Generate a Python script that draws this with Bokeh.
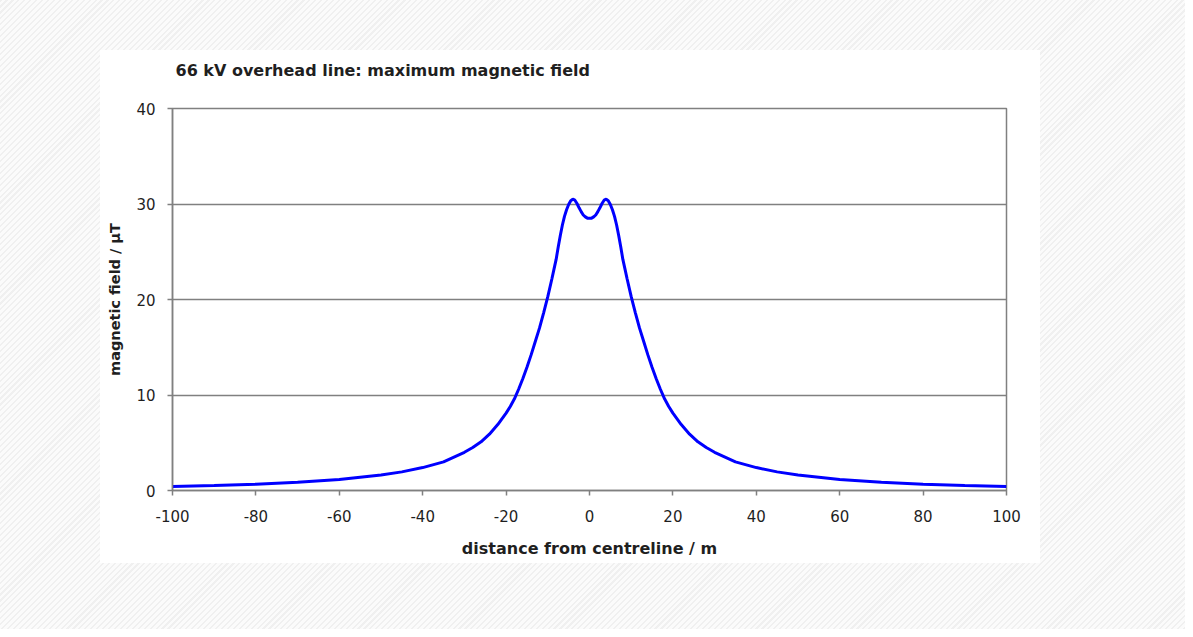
from bokeh.plotting import figure
from bokeh.models import Range1d, FixedTicker, ColumnDataSource, Spacer, CustomJSTickFormatter
from bokeh.layouts import column, row
from bokeh.embed import file_html
from bokeh.resources import INLINE

# ---- data ----
distance_m = [-100, -90, -80, -70, -60, -50, -45, -40, -35, -30, -28, -26, -24, -22,
              -20, -19, -18, -17, -16, -15, -14, -13, -12, -11, -10, -9, -8.5, -8, -7.5,
              -7, -6.5, -6, -5.5, -5, -4.5, -4, -3.5, -3, -2.5, -2, -1.5, -1, -0.5, 0,
              0.5, 1, 1.5, 2, 2.5, 3, 3.5, 4, 4.5, 5, 5.5, 6, 6.5, 7,
              7.5, 8, 8.5, 9, 10, 11, 12, 13, 14, 15, 16, 17, 18, 19, 20,
              22, 24, 26, 28, 30, 35, 40, 45, 50, 60, 70, 80, 90, 100]
field_uT = [0.42, 0.52, 0.66, 0.86, 1.15, 1.62, 1.95, 2.4, 3.0, 4.0, 4.5, 5.1, 5.9, 6.9,
            8.1, 8.8, 9.6, 10.6, 11.7, 12.9, 14.2, 15.6, 17.0, 18.6, 20.3, 22.2, 23.2, 24.2, 25.5,
            26.7, 27.8, 28.7, 29.4, 29.95, 30.35, 30.5, 30.4, 30.05, 29.6, 29.2, 28.85, 28.65, 28.52, 28.5,
            28.52, 28.65, 28.85, 29.2, 29.6, 30.05, 30.4, 30.5, 30.35, 29.95, 29.4, 28.7, 27.8, 26.7,
            25.5, 24.2, 23.2, 22.2, 20.3, 18.6, 17.0, 15.6, 14.2, 12.9, 11.7, 10.6, 9.6, 8.8, 8.1,
            6.9, 5.9, 5.1, 4.5, 4.0, 3.0, 2.4, 1.95, 1.62, 1.15, 0.86, 0.66, 0.52, 0.42]
x_ticks = [-100, -80, -60, -40, -20, 0, 20, 40, 60, 80, 100]
y_ticks = [0, 10, 20, 30, 40]
title_text = "66 kV overhead line: maximum magnetic field"
x_label = "distance from centreline / m"
y_label = "magnetic field / µT"

src = ColumnDataSource(dict(x=distance_m, y=field_uT))

HATCH = "repeating-linear-gradient(135deg, #f0f0f0 0px, #f0f0f0 1.5px, #fbfbfb 1.5px, #fbfbfb 4.2px)"

# figure extends 21px above the white panel (transparent there) so the title sits high
p = figure(width=940, height=534, output_backend="svg", toolbar_location=None,
           x_range=Range1d(-100, 100), y_range=Range1d(0, 40),
           min_border_left=72, min_border_right=34, min_border_top=79, min_border_bottom=73,
           title=title_text,
           styles={"background": "linear-gradient(to bottom, transparent 0px, transparent 21px, white 21px, white 100%)"})

GRAY = "#808080"
TXT = "#1f1f1f"

p.title.text_font = "DejaVu Sans"
p.title.text_font_size = "16px"
p.title.text_font_style = "bold"
p.title.text_color = TXT
p.title.align = "left"
p.title.offset = 3
p.title.standoff = 58

p.background_fill_color = "white"
p.border_fill_color = None
p.outline_line_color = GRAY
p.outline_line_width = 1.5

p.xgrid.visible = False
p.ygrid.grid_line_color = GRAY
p.ygrid.grid_line_width = 1.5

for ax in (p.xaxis[0], p.yaxis[0]):
    ax.axis_line_color = GRAY
    ax.axis_line_width = 1.5
    ax.major_tick_line_color = GRAY
    ax.major_tick_line_width = 1.5
    ax.major_tick_in = 0
    ax.major_tick_out = 5
    ax.minor_tick_line_color = None
    ax.major_label_text_font = "DejaVu Sans"
    ax.major_label_text_font_size = "15px"
    ax.major_label_text_color = TXT
    ax.axis_label_text_font = "DejaVu Sans"
    ax.axis_label_text_font_style = "bold"
    ax.axis_label_text_color = TXT
    ax.formatter = CustomJSTickFormatter(code="return tick.toString();")

p.xaxis.ticker = FixedTicker(ticks=x_ticks)
p.yaxis.ticker = FixedTicker(ticks=y_ticks)
p.xaxis.axis_label = x_label
p.yaxis.axis_label = y_label
p.xaxis.axis_label_text_font_size = "16px"
p.yaxis.axis_label_text_font_size = "14.5px"
p.xaxis.major_label_standoff = 14
p.yaxis.major_label_standoff = 12
p.xaxis.axis_label_standoff = 14
p.yaxis.axis_label_standoff = 10

p.line("x", "y", source=src, line_color="#0000ff", line_width=3)

layout = column(
    Spacer(width=1185, height=29),
    row(Spacer(width=100, height=534), p, Spacer(width=145, height=534)),
    Spacer(width=1185, height=66),
    width=1185, height=629,
    styles={"background": HATCH},
)

open("out.html", "w").write(file_html(layout, INLINE))
